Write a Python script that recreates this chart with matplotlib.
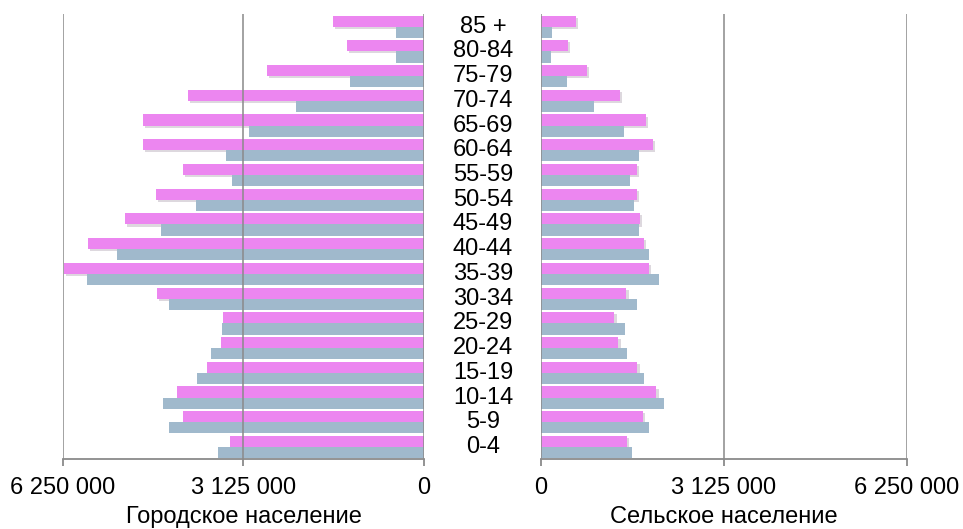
import numpy as np
import matplotlib
matplotlib.use('Agg')
import matplotlib.pyplot as plt
import matplotlib.patheffects as pe
from matplotlib.ticker import FuncFormatter

plt.rcParams['font.family'] = ['Liberation Sans', 'DejaVu Sans']

# age groups, bottom to top
ages = ['0-4', '5-9', '10-14', '15-19', '20-24', '25-29', '30-34', '35-39', '40-44',
        '45-49', '50-54', '55-59', '60-64', '65-69', '70-74', '75-79', '80-84', '85 +']

# urban population (pink = upper bar, blue = lower bar)
urban_pink = [3360000, 4170000, 4280000, 3760000, 3520000, 3480000, 4620000, 6240000, 5820000,
              5180000, 4640000, 4170000, 4870000, 4870000, 4090000, 2720000, 1330000, 1580000]
urban_blue = [3570000, 4420000, 4520000, 3930000, 3690000, 3500000, 4420000, 5840000, 5320000,
              4550000, 3950000, 3320000, 3430000, 3030000, 2220000, 1280000, 490000, 490000]

# rural population
rural_pink = [1465000, 1738000, 1972000, 1647000, 1322000, 1254000, 1459000, 1841000, 1766000,
              1687000, 1636000, 1636000, 1915000, 1800000, 1356000, 792000, 467000, 604000]
rural_blue = [1550000, 1852000, 2092000, 1755000, 1470000, 1436000, 1647000, 2023000, 1852000,
              1681000, 1584000, 1521000, 1670000, 1419000, 906000, 444000, 177000, 194000]

ticks = [0, 3125000, 6250000]
pink = '#EC86F0'
blue = '#A0B9CC'
line_col = '#8A8A8A'
fs = 17

fig = plt.figure(figsize=(9.63, 5.29), dpi=100)
ax_l = fig.add_axes([0.0654, 0.1315, 0.3749, 0.8415])
ax_r = fig.add_axes([0.5618, 0.1315, 0.3800, 0.8415])

y = np.arange(len(ages))
h = 0.45
shadow = [pe.SimplePatchShadow(offset=(1.5, -1.5), alpha=0.18), pe.Normal()]


def fmt(v, pos):
    return f'{int(v):,}'.replace(',', ' ')


for ax, p_vals, b_vals, label in [(ax_l, urban_pink, urban_blue, 'Городское население'),
                                  (ax_r, rural_pink, rural_blue, 'Сельское население')]:
    bp = ax.barh(y + h / 2, p_vals, height=h, color=pink, zorder=2)
    for b in bp:
        b.set_path_effects(shadow)
    ax.barh(y - h / 2, b_vals, height=h, color=blue, zorder=2)
    ax.set_ylim(-0.5, len(ages) - 0.5)
    ax.set_xlim(0, 6250000)
    ax.set_xticks(ticks)
    ax.xaxis.set_major_formatter(FuncFormatter(fmt))
    ax.set_yticks([])
    ax.grid(axis='x', color=line_col, linewidth=1.3, alpha=0.85, zorder=3)
    ax.set_axisbelow(False)
    ax.tick_params(axis='x', direction='out', length=5, width=1.3, color=line_col,
                   labelsize=fs, pad=8)
    for s in ax.spines.values():
        s.set_visible(False)
    ax.spines['bottom'].set_visible(True)
    ax.spines['bottom'].set_color(line_col)
    ax.spines['bottom'].set_linewidth(1.3)
    ax.set_xlabel(label, fontsize=fs, labelpad=5)

ax_l.invert_xaxis()

# age labels between the two halves
for i, a in enumerate(ages):
    fig.text(0.5015, ax_l.transData.transform((0, i))[1] / fig.bbox.height, a,
             ha='center', va='center', fontsize=fs)

fig.savefig('out.png', dpi=100)
